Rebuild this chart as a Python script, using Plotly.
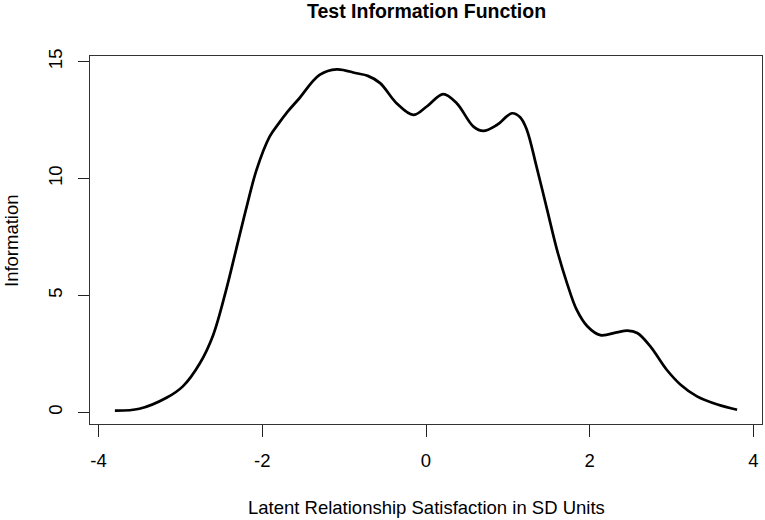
import plotly.graph_objects as go

theta = [-3.8, -3.5, -3.17, -2.97, -2.76, -2.6, -2.44, -2.32, -2.19, -2.07, -1.91, -1.79,
         -1.7, -1.56, -1.30, -1.09, -0.85, -0.71, -0.56, -0.36, -0.155, 0.01, 0.21, 0.375,
         0.58, 0.70, 0.865, 1.05, 1.15, 1.23, 1.35, 1.48, 1.60, 1.72, 1.84, 1.97, 2.13,
         2.33, 2.46, 2.58, 2.74, 2.94, 3.11, 3.31, 3.56, 3.8]
information = [0.07, 0.15, 0.62, 1.11, 2.11, 3.30, 5.25, 6.95, 8.80, 10.37, 11.79, 12.40,
               12.82, 13.38, 14.43, 14.67, 14.50, 14.39, 14.08, 13.22, 12.72, 13.08, 13.61, 13.22,
               12.22, 12.04, 12.29, 12.79, 12.62, 12.10, 10.51, 8.66, 6.95, 5.55, 4.39, 3.68, 3.30,
               3.42, 3.49, 3.39, 2.82, 1.82, 1.18, 0.68, 0.33, 0.11]
x_ticks = [-4, -2, 0, 2, 4]
y_ticks = [0, 5, 10, 15]

FONT = "Liberation Sans, Arial, sans-serif"
W, H, L, R, T, B = 765, 520, 90, 3, 56, 96
PH = H - T - B
PW = W - L - R


def py_to_paper(py):
    return (H - B - py) / PH


fig = go.Figure()
fig.add_trace(go.Scatter(x=theta, y=information, mode="lines",
                         line=dict(color="black", width=2.7, shape="spline", smoothing=1.0),
                         showlegend=False, hoverinfo="skip"))

fig.update_layout(
    width=W, height=H,
    margin=dict(l=L, r=R, t=T, b=B, autoexpand=False),
    paper_bgcolor="white", plot_bgcolor="white",
    font=dict(family=FONT, color="black", size=18.5),
    xaxis=dict(range=[-4.104, 4.104], tickvals=x_ticks, ticktext=[str(v) for v in x_ticks],
               showgrid=False, zeroline=False, showline=True, mirror=True, automargin=False,
               linecolor="#333333", linewidth=1.2, ticks="outside", ticklen=12,
               tickcolor="#222222", tickwidth=1.2, ticklabelstandoff=8),
    yaxis=dict(range=[-0.5, 15.24], tickvals=y_ticks, ticktext=[str(v) for v in y_ticks],
               showgrid=False, zeroline=False, showline=True, mirror=True, automargin=False,
               linecolor="#333333", linewidth=1.2, ticks="outside", ticklen=11,
               tickcolor="#222222", tickwidth=1.2, tickangle=-90, ticklabelstandoff=9),
    annotations=[
        dict(text="<b>Test Information Function</b>", xref="paper", yref="paper",
             x=0.5, y=py_to_paper(11), xanchor="center", yanchor="middle", showarrow=False,
             font=dict(family=FONT, size=19.5, color="black")),
        dict(text="Latent Relationship Satisfaction in SD Units", xref="paper", yref="paper",
             x=0.5, y=py_to_paper(508), xanchor="center", yanchor="middle", showarrow=False,
             font=dict(family=FONT, size=18.5, color="black")),
        dict(text="Information", xref="paper", yref="paper", textangle=-90,
             x=(11 - L) / PW, y=py_to_paper(241), xanchor="center", yanchor="middle",
             showarrow=False, font=dict(family=FONT, size=18.5, color="black")),
    ],
)

fig.write_html("out.html", config={"displayModeBar": False},
               post_script="document.body.style.margin='0';document.body.style.padding='0';")
